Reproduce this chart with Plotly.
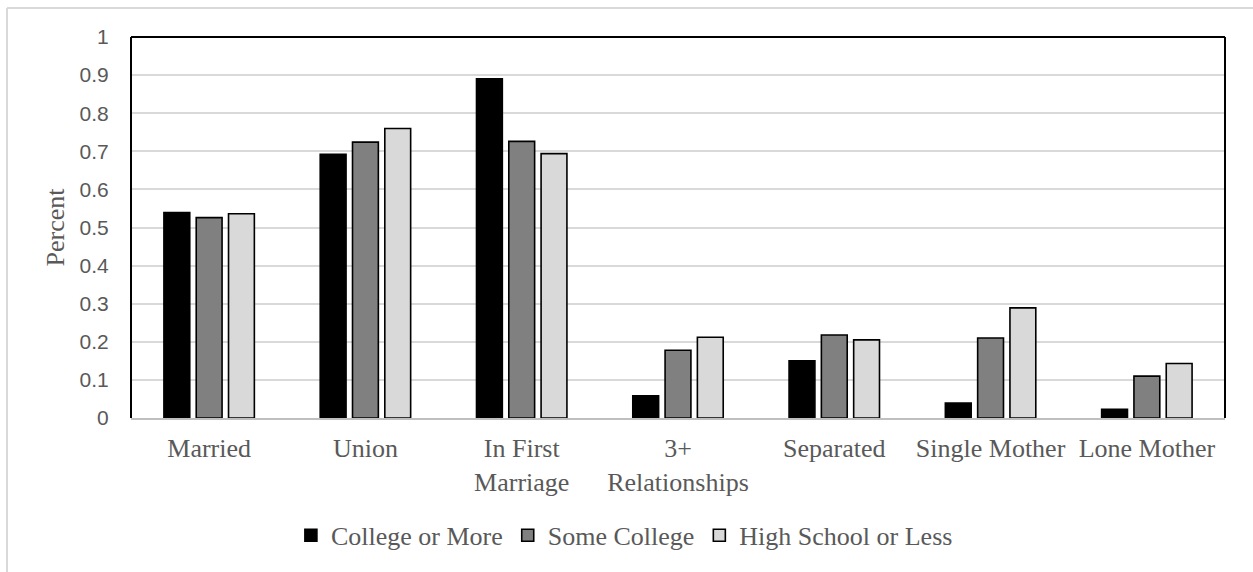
import plotly.graph_objects as go

categories = ["Married", "Union", "In First<br>Marriage", "3+<br>Relationships",
              "Separated", "Single Mother", "Lone Mother"]
college_or_more = [0.539, 0.692, 0.890, 0.058, 0.150, 0.039, 0.023]
some_college = [0.526, 0.724, 0.726, 0.178, 0.218, 0.210, 0.110]
high_school_or_less = [0.536, 0.760, 0.694, 0.212, 0.205, 0.289, 0.143]
series_names = ["College or More", "Some College", "High School or Less"]
series_colors = ["#000000", "#808080", "#d9d9d9"]
y_ticks = [0, 0.1, 0.2, 0.3, 0.4, 0.5, 0.6, 0.7, 0.8, 0.9, 1]
y_ticklabels = ["0", "0.1", "0.2", "0.3", "0.4", "0.5", "0.6", "0.7", "0.8", "0.9", "1"]

SERIF = "Liberation Serif, Times New Roman, serif"
SANS = "Liberation Sans, Arial, sans-serif"
TXT = "#595959"

fig = go.Figure()
for name, vals, col in zip(series_names, [college_or_more, some_college, high_school_or_less], series_colors):
    fig.add_trace(go.Bar(
        x=categories, y=vals, name=name,
        marker=dict(color=col, line=dict(color="#000000", width=1.6)),
    ))

fig.update_layout(
    width=1253, height=572,
    margin=dict(l=131, r=28, t=37, b=154),
    paper_bgcolor="white", plot_bgcolor="white",
    barmode="group", bargap=0.38, bargroupgap=0.2,
    showlegend=True,
    legend=dict(orientation="h", x=0.451, xanchor="center", y=-0.308, yanchor="middle",
                font=dict(family=SERIF, size=26, color=TXT),
                itemwidth=30, traceorder="normal"),
    xaxis=dict(showgrid=False, showline=True, linecolor="#bfbfbf", linewidth=2,
               ticks="", tickfont=dict(family=SERIF, size=26, color=TXT),
               ticklabelstandoff=6, mirror=False, fixedrange=True),
    yaxis=dict(range=[0, 1], tickvals=y_ticks, ticktext=y_ticklabels,
               showgrid=True, gridcolor="#d9d9d9", gridwidth=1.5,
               showline=False, zeroline=False,
               ticks="outside", ticklen=17, tickcolor="rgba(0,0,0,0)",
               tickfont=dict(family=SANS, size=21, color=TXT),
               fixedrange=True),
    shapes=[
        # plot frame (left, top, right)
        dict(type="line", xref="paper", yref="paper", x0=0, x1=0, y0=0, y1=1,
             line=dict(color="#000000", width=2)),
        dict(type="line", xref="paper", yref="paper", x0=0, x1=1, y0=1, y1=1,
             line=dict(color="#000000", width=2)),
        dict(type="line", xref="paper", yref="paper", x0=1, x1=1, y0=0, y1=1,
             line=dict(color="#000000", width=2)),
        # outer chart border (left and top visible)
        dict(type="line", xref="paper", yref="paper",
             x0=(7 - 131) / 1094, x1=(7 - 131) / 1094, y0=(418 - 8) / 381, y1=(418 - 580) / 381,
             line=dict(color="#d9d9d9", width=2)),
        dict(type="line", xref="paper", yref="paper",
             x0=(7 - 131) / 1094, x1=(1260 - 131) / 1094, y0=(418 - 8) / 381, y1=(418 - 8) / 381,
             line=dict(color="#d9d9d9", width=2)),
    ],
    annotations=[
        dict(text="Percent", xref="paper", yref="paper", x=(55 - 131) / 1094, y=0.5,
             xanchor="center", yanchor="middle", textangle=-90, showarrow=False,
             font=dict(family=SERIF, size=26, color=TXT)),
    ],
)

fig.write_html("out.html")
